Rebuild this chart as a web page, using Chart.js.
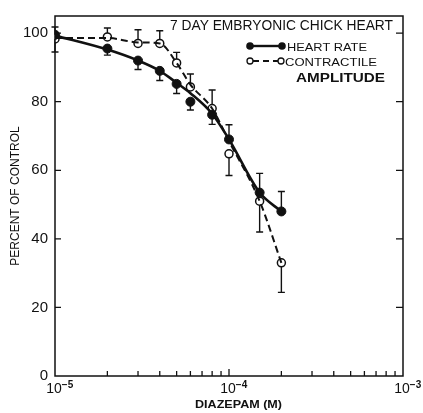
<!DOCTYPE html>
<html><head><meta charset="utf-8">
<script src="https://cdn.jsdelivr.net/npm/chart.js@4/dist/chart.umd.min.js"></script>
<style>html,body{margin:0;padding:0;background:#fff}canvas{display:block}</style>
</head><body>
<canvas id="c" width="423" height="413"></canvas>
<script>
// ---- data ----
const concentrations = [1e-5, 2e-5, 3e-5, 4e-5, 5e-5, 6e-5, 8e-5, 1e-4, 1.5e-4, 2e-4];
const heartRate        = [99.5, 95.5, 92, 89, 85.2, 80, 76.2, 69, 53.5, 48];
const heartRateErrEnd  = [101.8, 93.6, 89.4, 86.2, 82.4, 77.6, 73.4, 73.3, 59.1, 53.8];
const contractile      = [98.3, 98.9, 97, 97, 91.3, 84.3, 78, 64.8, 51, 33];
const contractileErrEnd= [94.5, 101.5, 101, 100.7, 94.4, 88.1, 83.4, 58.5, 42, 24.4];
// hand-drawn curves
const heartRateCurve   = [99.3, 95.2, 92, 89, 85.5, 82.5, 76.5, 69, 53.5, 48];
const contractileCurve = [98.6, 98.6, 97.3, 97, 91.3, 85, 78, 68.5, 51, 33];
const yTicks = [0, 20, 40, 60, 80, 100];
const xDecades = [1e-5, 1e-4, 1e-3];
const xTickBase = '10';
const xTickExponents = ['\u22125', '\u22124', '\u22123'];
const xTitle = 'DIAZEPAM (M)';
const yTitle = 'PERCENT OF CONTROL';
const titleText = '7 DAY EMBRYONIC CHICK HEART';
const legendLabels = ['HEART RATE', 'CONTRACTILE', 'AMPLITUDE'];

const FONT = '"Liberation Sans", Arial, sans-serif';
const pts = (ys) => concentrations.map((c, i) => ({x: c, y: ys[i]}));

function fitText(ctx, text, x, y, w, font) {
  ctx.save();
  ctx.font = font;
  const m = ctx.measureText(text).width;
  ctx.translate(x, y);
  ctx.scale(w / m, 1);
  ctx.textAlign = 'left';
  ctx.textBaseline = 'alphabetic';
  ctx.fillText(text, 0, 0);
  ctx.restore();
}

const decor = {
  id: 'decor',
  beforeDatasetsDraw(chart) {
    const {ctx, scales: {x, y}} = chart;
    ctx.save();
    ctx.strokeStyle = '#111';
    ctx.lineWidth = 1.4;
    const bars = (vals, ends) => concentrations.forEach((c, i) => {
      const X = x.getPixelForValue(c);
      const Y0 = y.getPixelForValue(vals[i]);
      const Y1 = y.getPixelForValue(ends[i]);
      ctx.beginPath();
      ctx.moveTo(X, Y0); ctx.lineTo(X, Y1);
      ctx.moveTo(X - 3.5, Y1); ctx.lineTo(X + 3.5, Y1);
      ctx.stroke();
    });
    bars(heartRate, heartRateErrEnd);
    bars(contractile, contractileErrEnd);
    ctx.restore();
  },
  afterDraw(chart) {
    const {ctx, chartArea: a, scales: {x, y}} = chart;
    ctx.save();
    ctx.strokeStyle = '#111';
    ctx.fillStyle = '#111';
    ctx.lineWidth = 1.5;
    ctx.strokeRect(a.left, a.top, a.right - a.left, a.bottom - a.top);
    // x ticks (inward)
    ctx.lineWidth = 1.3;
    for (let e = -5; e < -3; e++) {
      for (let k = 2; k <= 9; k++) {
        const X = x.getPixelForValue(k * Math.pow(10, e));
        ctx.beginPath(); ctx.moveTo(X, a.bottom); ctx.lineTo(X, a.bottom - 5); ctx.stroke();
      }
    }
    const X4 = x.getPixelForValue(1e-4);
    ctx.beginPath(); ctx.moveTo(X4, a.bottom); ctx.lineTo(X4, a.bottom - 7); ctx.stroke();
    // x tick labels: 10 with superscript exponent
    xDecades.forEach((d, i) => {
      const X = x.getPixelForValue(d) - 1;
      ctx.font = '14px ' + FONT;
      ctx.textBaseline = 'alphabetic';
      ctx.textAlign = 'center';
      const bw = ctx.measureText(xTickBase).width;
      ctx.fillText(xTickBase, X, a.bottom + 16.5);
      ctx.font = 'bold 10px ' + FONT;
      ctx.textAlign = 'left';
      ctx.fillText(xTickExponents[i], X + bw / 2, a.bottom + 11.5);
    });
    // x title
    fitText(ctx, xTitle, 195, 407.5, 87, 'bold 11px ' + FONT);
    // y ticks (inward, both sides)
    yTicks.forEach(v => {
      if (v === 0) return;
      const Y = y.getPixelForValue(v);
      ctx.beginPath();
      ctx.moveTo(a.left, Y); ctx.lineTo(a.left + 6, Y);
      ctx.moveTo(a.right, Y); ctx.lineTo(a.right - 7, Y);
      ctx.stroke();
    });
    // heading
    fitText(ctx, titleText, 170, 30, 223, '14px ' + FONT);
    // legend
    ctx.lineWidth = 2.4;
    ctx.beginPath(); ctx.moveTo(250, 46); ctx.lineTo(282, 46); ctx.stroke();
    [250, 282].forEach(cx => { ctx.beginPath(); ctx.arc(cx, 46, 3.8, 0, Math.PI * 2); ctx.fill(); });
    ctx.lineWidth = 1.8;
    ctx.setLineDash([6, 4]);
    ctx.beginPath(); ctx.moveTo(253, 61); ctx.lineTo(279, 61); ctx.stroke();
    ctx.setLineDash([]);
    ctx.lineWidth = 1.3;
    [250, 281].forEach(cx => { ctx.beginPath(); ctx.arc(cx, 61, 3, 0, Math.PI * 2); ctx.fillStyle = '#fff'; ctx.fill(); ctx.stroke(); });
    ctx.fillStyle = '#111';
    fitText(ctx, legendLabels[0], 287, 50.5, 80, '11px ' + FONT);
    fitText(ctx, legendLabels[1], 285, 65.5, 92, '11px ' + FONT);
    fitText(ctx, legendLabels[2], 296, 82, 89, 'bold 12px ' + FONT);
    ctx.restore();
  }
};

new Chart(document.getElementById('c'), {
  type: 'line',
  data: {
    datasets: [
      { label: 'Heart rate curve', data: pts(heartRateCurve), borderColor: '#111', borderWidth: 2.6,
        pointRadius: 0, cubicInterpolationMode: 'monotone', fill: false },
      { label: 'Contractile amplitude curve', data: pts(contractileCurve), borderColor: '#111', borderWidth: 2,
        borderDash: [7, 4], pointRadius: 0, cubicInterpolationMode: 'monotone', fill: false },
      { label: 'Heart rate', data: pts(heartRate), showLine: false, pointRadius: 4.5,
        pointBackgroundColor: '#111', pointBorderColor: '#111', pointBorderWidth: 1 },
      { label: 'Contractile amplitude', data: pts(contractile), showLine: false, pointRadius: 4,
        pointBackgroundColor: '#fff', pointBorderColor: '#111', pointBorderWidth: 1.5 }
    ]
  },
  options: {
    responsive: false,
    animation: false,
    events: [],
    layout: { padding: { top: 14, right: 20, left: 0, bottom: 0 } },
    plugins: { legend: { display: false }, title: { display: false }, tooltip: { enabled: false } },
    scales: {
      x: {
        type: 'logarithmic', position: 'bottom', min: 1e-5, max: 1e-3,
        grid: { display: false, drawTicks: false, tickLength: 0 },
        border: { display: false },
        afterBuildTicks: (s) => { s.ticks = xDecades.map(v => ({value: v})); },
        afterFit: (s) => { s.height = 37; },
        ticks: { display: false },
        title: { display: false }
      },
      y: {
        type: 'linear', min: 0, max: 105,
        grid: { display: false, drawTicks: false, tickLength: 0 },
        border: { display: false },
        afterBuildTicks: (s) => { s.ticks = yTicks.map(v => ({value: v})); },
        afterFit: (s) => { s.width = 55; },
        ticks: { padding: 7, color: '#111', font: { family: FONT, size: 15 } },
        title: { display: true, text: yTitle, color: '#111', padding: { top: 8, bottom: 0 },
          font: { family: FONT, size: 12 } }
      }
    }
  },
  plugins: [decor]
});
</script>
</body></html>
